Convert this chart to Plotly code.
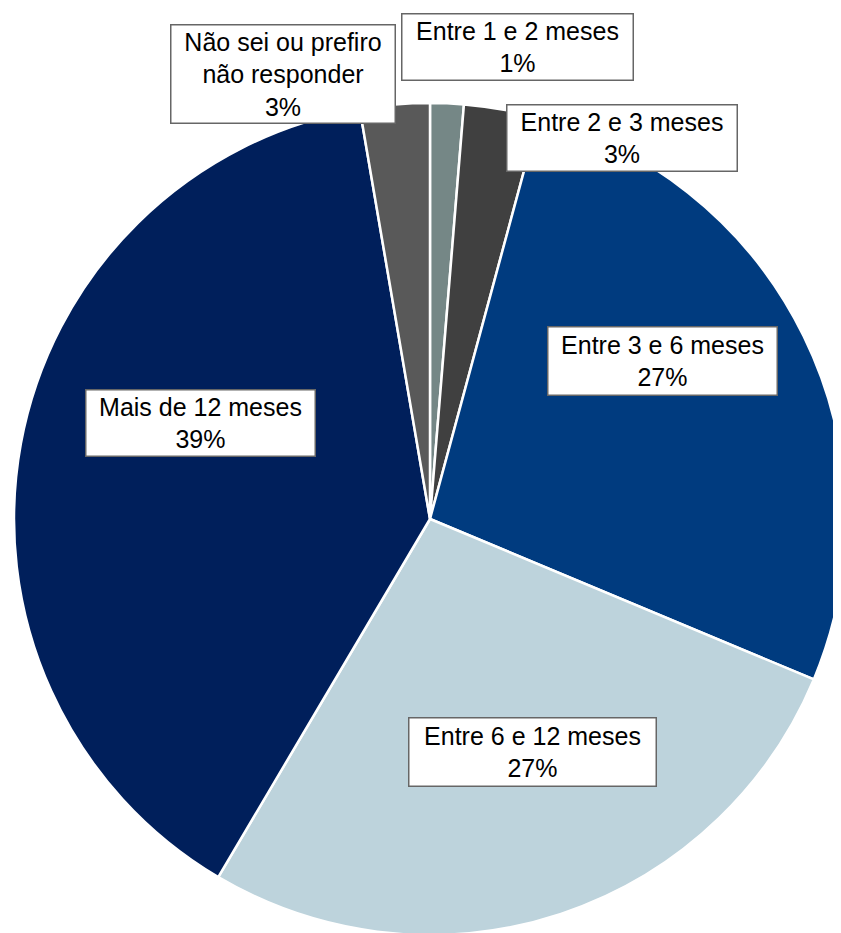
import plotly.graph_objects as go

# slices, clockwise from 12 o'clock
categories = [
    "Entre 1 e 2 meses",
    "Entre 2 e 3 meses",
    "Entre 3 e 6 meses",
    "Entre 6 e 12 meses",
    "Mais de 12 meses",
    "Não sei ou prefiro<br>não responder",
]
shares = [1.3, 2.9, 27.1, 27.2, 38.8, 2.7]
colors = ["#758786", "#404040", "#003b7f", "#bdd3dc", "#001f5b", "#595959"]

# label box centres (px from top-left of the page) and box sizes
label_pos = [(517, 47), (622, 138), (662, 361), (532, 752), (200, 423), (283, 74)]
label_box = [(233, 68), (232, 68), (231, 70), (249, 70), (231, 68), (226, 100)]

W, H = 841, 933
OFF = 8  # page body margin shifts the figure

fig = go.Figure(go.Pie(
    labels=categories,
    values=shares,
    sort=False,
    direction="clockwise",
    rotation=0,
    marker=dict(colors=colors, line=dict(color="white", width=2.5)),
    textinfo="none",
    hoverinfo="label+percent",
    domain=dict(x=[6 / W, 838 / W], y=[6 / H, 838 / H]),
    showlegend=False,
))

total = sum(shares)
for cat, v, (px, py), (bw, bh) in zip(categories, shares, label_pos, label_box):
    pct = round(v / total * 100)
    fig.add_annotation(
        x=(px - OFF) / W, y=1 - (py - OFF) / H, xref="paper", yref="paper",
        xanchor="center", yanchor="middle",
        text=f"{cat}<br>{pct}%",
        showarrow=False,
        font=dict(family="Liberation Sans, Arial", size=25, color="black"),
        bgcolor="white",
        bordercolor="#666666",
        borderwidth=1.5,
        borderpad=0,
        width=bw - 3,
        height=bh - 3,
        align="center",
    )

fig.update_layout(
    width=W, height=H,
    margin=dict(l=0, r=0, t=0, b=0),
    paper_bgcolor="white",
    plot_bgcolor="white",
)

fig.write_html("out.html")
